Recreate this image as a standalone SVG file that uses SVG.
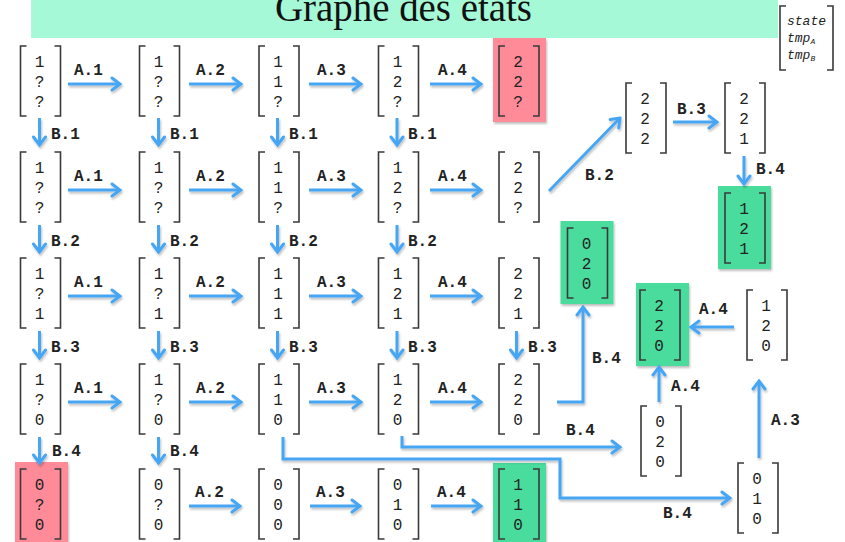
<svg xmlns="http://www.w3.org/2000/svg" width="845" height="542" viewBox="0 0 845 542">
<style>
.br{fill:none;stroke:#3a3a3a;stroke-width:1.6}
.v{font-family:"Liberation Mono","DejaVu Sans Mono",monospace;font-size:16px;fill:#222;text-anchor:middle}
.lb{font-family:"Liberation Mono","DejaVu Sans Mono",monospace;font-size:16px;fill:#222;font-weight:bold}
.ar{fill:none;stroke:#46a6f4;stroke-width:3;marker-end:url(#ah)}
.red{fill:#ff8a98}
.grn{fill:#48dc9c}
.lg{font-family:"Liberation Mono","DejaVu Sans Mono",monospace;font-size:13px;font-style:italic;fill:#222}
</style>
<defs>
<marker id="ah" viewBox="-10 -8 12 16" refX="0" refY="0" markerWidth="12" markerHeight="16" markerUnits="userSpaceOnUse" orient="auto">
<path d="M-8,-6 L0,0 L-8,6" fill="none" stroke="#46a6f4" stroke-width="3" stroke-linecap="round"/>
</marker>
<filter id="sh" x="-20%" y="-20%" width="140%" height="140%">
<feDropShadow dx="1" dy="2" stdDeviation="1.2" flood-color="#000" flood-opacity="0.25"/>
</filter>
<path id="bk" d="M6,0 H0 V70 H6 M34,0 H40 V70 H34"/>
</defs>
<rect x="31" y="0" width="747" height="38" fill="#a6f9d6"/>
<text x="403.5" y="21" font-family="'Liberation Serif','Times New Roman',serif" font-size="39" text-anchor="middle" textLength="257" lengthAdjust="spacingAndGlyphs" fill="#111">Graphe des états</text>
<g id="legend">
<path class="br" d="M786,6 H780 V70 H786 M827,6 H833 V70 H827"/>
<text class="lg" x="787" y="25">state</text>
<text class="lg" x="787" y="42">tmp<tspan font-size="8" dy="2">A</tspan></text>
<text class="lg" x="787" y="59">tmp<tspan font-size="8" dy="2">B</tspan></text>
</g>
<g id="boxes" filter="url(#sh)">
<rect class="red" x="493" y="38" width="53" height="84"/>
<rect class="red" x="15" y="462" width="53" height="84"/>
<rect class="grn" x="493" y="463" width="53" height="84"/>
<rect class="grn" x="718" y="186" width="53" height="83"/>
<rect class="grn" x="560.5" y="221" width="53" height="83"/>
<rect class="grn" x="636" y="283" width="53" height="83"/>
</g>
<!-- row 1 -->
<g id="n11" transform="translate(20.5,46)"><use href="#bk" class="br"/><text class="v" x="19" y="21">1</text><text class="v" x="19" y="41">?</text><text class="v" x="19" y="61">?</text></g>
<g id="n12" transform="translate(139.5,46)"><use href="#bk" class="br"/><text class="v" x="19" y="21">1</text><text class="v" x="19" y="41">?</text><text class="v" x="19" y="61">?</text></g>
<g id="n13" transform="translate(259,46)"><use href="#bk" class="br"/><text class="v" x="19" y="21">1</text><text class="v" x="19" y="41">1</text><text class="v" x="19" y="61">?</text></g>
<g id="n14" transform="translate(378.5,46)"><use href="#bk" class="br"/><text class="v" x="19" y="21">1</text><text class="v" x="19" y="41">2</text><text class="v" x="19" y="61">?</text></g>
<g id="n15" transform="translate(499,46)"><use href="#bk" class="br"/><text class="v" x="19" y="21">2</text><text class="v" x="19" y="41">2</text><text class="v" x="19" y="61">?</text></g>
<!-- row 2 -->
<g id="n21" transform="translate(20.5,152)"><use href="#bk" class="br"/><text class="v" x="19" y="21">1</text><text class="v" x="19" y="41">?</text><text class="v" x="19" y="61">?</text></g>
<g id="n22" transform="translate(139.5,152)"><use href="#bk" class="br"/><text class="v" x="19" y="21">1</text><text class="v" x="19" y="41">?</text><text class="v" x="19" y="61">?</text></g>
<g id="n23" transform="translate(259,152)"><use href="#bk" class="br"/><text class="v" x="19" y="21">1</text><text class="v" x="19" y="41">1</text><text class="v" x="19" y="61">?</text></g>
<g id="n24" transform="translate(378.5,152)"><use href="#bk" class="br"/><text class="v" x="19" y="21">1</text><text class="v" x="19" y="41">2</text><text class="v" x="19" y="61">?</text></g>
<g id="n25" transform="translate(499,152)"><use href="#bk" class="br"/><text class="v" x="19" y="21">2</text><text class="v" x="19" y="41">2</text><text class="v" x="19" y="61">?</text></g>
<!-- row 3 -->
<g id="n31" transform="translate(20.5,258)"><use href="#bk" class="br"/><text class="v" x="19" y="21">1</text><text class="v" x="19" y="41">?</text><text class="v" x="19" y="61">1</text></g>
<g id="n32" transform="translate(139.5,258)"><use href="#bk" class="br"/><text class="v" x="19" y="21">1</text><text class="v" x="19" y="41">?</text><text class="v" x="19" y="61">1</text></g>
<g id="n33" transform="translate(259,258)"><use href="#bk" class="br"/><text class="v" x="19" y="21">1</text><text class="v" x="19" y="41">1</text><text class="v" x="19" y="61">1</text></g>
<g id="n34" transform="translate(378.5,258)"><use href="#bk" class="br"/><text class="v" x="19" y="21">1</text><text class="v" x="19" y="41">2</text><text class="v" x="19" y="61">1</text></g>
<g id="n35" transform="translate(499,258)"><use href="#bk" class="br"/><text class="v" x="19" y="21">2</text><text class="v" x="19" y="41">2</text><text class="v" x="19" y="61">1</text></g>
<!-- row 4 -->
<g id="n41" transform="translate(20.5,364)"><use href="#bk" class="br"/><text class="v" x="19" y="21">1</text><text class="v" x="19" y="41">?</text><text class="v" x="19" y="61">0</text></g>
<g id="n42" transform="translate(139.5,364)"><use href="#bk" class="br"/><text class="v" x="19" y="21">1</text><text class="v" x="19" y="41">?</text><text class="v" x="19" y="61">0</text></g>
<g id="n43" transform="translate(259,364)"><use href="#bk" class="br"/><text class="v" x="19" y="21">1</text><text class="v" x="19" y="41">1</text><text class="v" x="19" y="61">0</text></g>
<g id="n44" transform="translate(378.5,364)"><use href="#bk" class="br"/><text class="v" x="19" y="21">1</text><text class="v" x="19" y="41">2</text><text class="v" x="19" y="61">0</text></g>
<g id="n45" transform="translate(499,364)"><use href="#bk" class="br"/><text class="v" x="19" y="21">2</text><text class="v" x="19" y="41">2</text><text class="v" x="19" y="61">0</text></g>
<!-- row 5 -->
<g id="n51" transform="translate(20.5,469)"><use href="#bk" class="br"/><text class="v" x="19" y="21">0</text><text class="v" x="19" y="41">?</text><text class="v" x="19" y="61">0</text></g>
<g id="n52" transform="translate(139.5,469)"><use href="#bk" class="br"/><text class="v" x="19" y="21">0</text><text class="v" x="19" y="41">?</text><text class="v" x="19" y="61">0</text></g>
<g id="n53" transform="translate(259,469)"><use href="#bk" class="br"/><text class="v" x="19" y="21">0</text><text class="v" x="19" y="41">0</text><text class="v" x="19" y="61">0</text></g>
<g id="n54" transform="translate(378.5,469)"><use href="#bk" class="br"/><text class="v" x="19" y="21">0</text><text class="v" x="19" y="41">1</text><text class="v" x="19" y="61">0</text></g>
<g id="n55" transform="translate(499,469)"><use href="#bk" class="br"/><text class="v" x="19" y="21">1</text><text class="v" x="19" y="41">1</text><text class="v" x="19" y="61">0</text></g>
<!-- right side -->
<g id="n222" transform="translate(626,83)"><use href="#bk" class="br"/><text class="v" x="19" y="21">2</text><text class="v" x="19" y="41">2</text><text class="v" x="19" y="61">2</text></g>
<g id="n221" transform="translate(725,83)"><use href="#bk" class="br"/><text class="v" x="19" y="21">2</text><text class="v" x="19" y="41">2</text><text class="v" x="19" y="61">1</text></g>
<g id="n121" transform="translate(725,193)"><use href="#bk" class="br"/><text class="v" x="19" y="21">1</text><text class="v" x="19" y="41">2</text><text class="v" x="19" y="61">1</text></g>
<g id="n020g" transform="translate(567.5,228)"><use href="#bk" class="br"/><text class="v" x="19" y="21">0</text><text class="v" x="19" y="41">2</text><text class="v" x="19" y="61">0</text></g>
<g id="n220g" transform="translate(640,290)"><use href="#bk" class="br"/><text class="v" x="19" y="21">2</text><text class="v" x="19" y="41">2</text><text class="v" x="19" y="61">0</text></g>
<g id="n120" transform="translate(747,290)"><use href="#bk" class="br"/><text class="v" x="19" y="21">1</text><text class="v" x="19" y="41">2</text><text class="v" x="19" y="61">0</text></g>
<g id="n020" transform="translate(641,406)"><use href="#bk" class="br"/><text class="v" x="19" y="21">0</text><text class="v" x="19" y="41">2</text><text class="v" x="19" y="61">0</text></g>
<g id="n010" transform="translate(738,463)"><use href="#bk" class="br"/><text class="v" x="19" y="21">0</text><text class="v" x="19" y="41">1</text><text class="v" x="19" y="61">0</text></g>
<g id="connectors">
<g filter="url(#sh)">
<!-- horizontal A arrows rows 1-4 -->
<path class="ar" d="M68,84 H120"/><path class="ar" d="M189,84 H241"/><path class="ar" d="M309,84 H361"/><path class="ar" d="M430,84 H481"/>
<path class="ar" d="M68,190 H120"/><path class="ar" d="M189,190 H241"/><path class="ar" d="M309,190 H361"/><path class="ar" d="M430,190 H481"/>
<path class="ar" d="M68,296 H120"/><path class="ar" d="M189,296 H241"/><path class="ar" d="M309,296 H361"/><path class="ar" d="M430,296 H481"/>
<path class="ar" d="M68,402 H120"/><path class="ar" d="M189,402 H241"/><path class="ar" d="M309,402 H361"/><path class="ar" d="M430,402 H481"/>
<path class="ar" d="M189,506 H240"/><path class="ar" d="M310,506 H360"/><path class="ar" d="M431,506 H481"/>
<!-- vertical B arrows -->
<path class="ar" d="M39.5,118 V145"/><path class="ar" d="M158.5,118 V145"/><path class="ar" d="M277.5,118 V145"/><path class="ar" d="M397,118 V145"/>
<path class="ar" d="M39.5,225 V252"/><path class="ar" d="M158.5,225 V252"/><path class="ar" d="M277.5,225 V252"/><path class="ar" d="M397,225 V252"/>
<path class="ar" d="M39.5,331 V358"/><path class="ar" d="M158.5,331 V358"/><path class="ar" d="M277.5,331 V358"/><path class="ar" d="M397,331 V358"/><path class="ar" d="M516.5,331 V358"/>
<path class="ar" d="M39.5,437 V463"/><path class="ar" d="M158.5,437 V463"/>
<!-- right side -->
<path class="ar" d="M549,191 L620,118"/>
<path class="ar" d="M673,122 H717"/>
<path class="ar" d="M744,156 V184"/>
<path class="ar" d="M734,327 H691"/>
<path class="ar" d="M557,402 H583 V307"/>
<path class="ar" d="M659,402 V367"/>
<path class="ar" d="M402,436 V447 H620"/>
<path class="ar" d="M283,437 V459 H560 V498 H730"/>
<path class="ar" d="M759,458 V381"/>
</g>
<!-- labels -->
<text class="lb" x="74" y="75">A.1</text><text class="lb" x="196" y="75">A.2</text><text class="lb" x="317" y="75">A.3</text><text class="lb" x="438" y="75">A.4</text>
<text class="lb" x="74" y="181">A.1</text><text class="lb" x="196" y="181">A.2</text><text class="lb" x="317" y="181">A.3</text><text class="lb" x="438" y="181">A.4</text>
<text class="lb" x="74" y="287">A.1</text><text class="lb" x="196" y="287">A.2</text><text class="lb" x="317" y="287">A.3</text><text class="lb" x="438" y="287">A.4</text>
<text class="lb" x="74" y="393">A.1</text><text class="lb" x="196" y="393">A.2</text><text class="lb" x="317" y="393">A.3</text><text class="lb" x="438" y="393">A.4</text>
<text class="lb" x="195" y="497">A.2</text><text class="lb" x="316" y="497">A.3</text><text class="lb" x="437" y="497">A.4</text>
<text class="lb" x="51" y="139">B.1</text><text class="lb" x="170" y="139">B.1</text><text class="lb" x="289" y="139">B.1</text><text class="lb" x="408" y="139">B.1</text>
<text class="lb" x="51" y="246">B.2</text><text class="lb" x="170" y="246">B.2</text><text class="lb" x="289" y="246">B.2</text><text class="lb" x="408" y="246">B.2</text>
<text class="lb" x="51" y="352">B.3</text><text class="lb" x="170" y="352">B.3</text><text class="lb" x="289" y="352">B.3</text><text class="lb" x="408" y="352">B.3</text><text class="lb" x="528" y="352">B.3</text>
<text class="lb" x="52" y="456">B.4</text><text class="lb" x="170" y="456">B.4</text>
<text class="lb" x="585" y="180">B.2</text>
<text class="lb" x="677" y="114">B.3</text>
<text class="lb" x="756" y="174">B.4</text>
<text class="lb" x="699" y="314">A.4</text>
<text class="lb" x="592" y="363">B.4</text>
<text class="lb" x="671" y="391">A.4</text>
<text class="lb" x="566" y="435">B.4</text>
<text class="lb" x="663" y="518">B.4</text>
<text class="lb" x="771" y="425">A.3</text>
</g>
</svg>
